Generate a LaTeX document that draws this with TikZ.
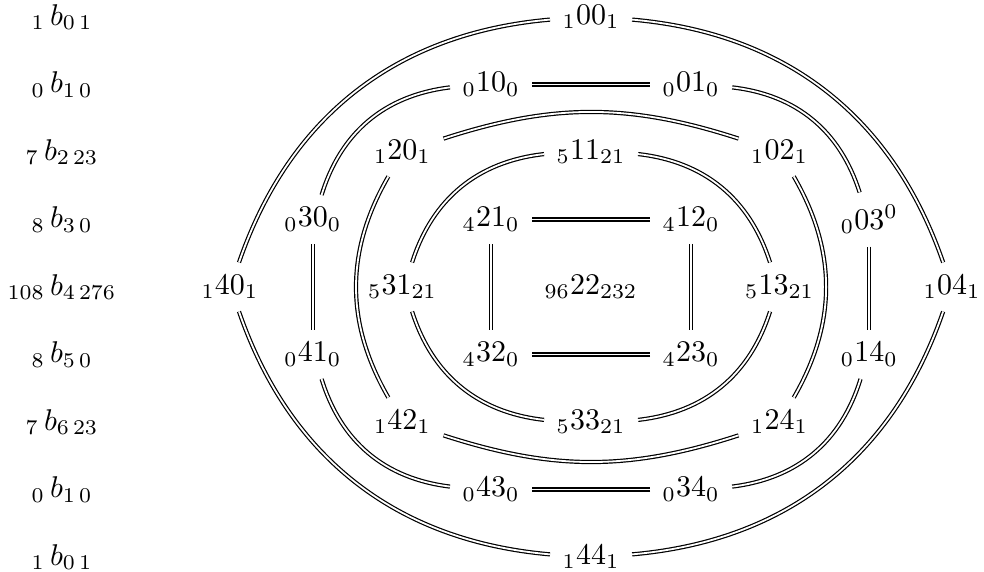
\documentclass[tikz,border=0pt]{standalone}
\usepackage{amsmath}
\usepackage{amssymb}

\begin{document}
\begin{tikzpicture}[x=1cm, y=0.791cm, every node/.style={inner sep=4pt}, eq/.style={double}]
                    \useasboundingbox (-6.924,-4.221) rectangle (4.603,4.250);

                    % Betti column
                    \node (b0t) at (-6.197,4) {${}_{1}\,b_{0\,1}$};
                    \node (b1t) at (-6.197,3) {${}_{0}\,b_{1\,0}$};
                    \node (b2) at (-6.197,2) {${}_{7}\,b_{2\,23}$};
                    \node (b3) at (-6.197,1) {${}_{8}\,b_{3\,0}$};
                    \node (b4) at (-6.197,0) {${}_{108}\,b_{4\,276}$};
                    \node (b5) at (-6.197,-1) {${}_{8}\,b_{5\,0}$};
                    \node (b6) at (-6.197,-2) {${}_{7}\,b_{6\,23}$};
                    \node (b1b) at (-6.197,-3) {${}_{0}\,b_{1\,0}$};
                    \node (b0b) at (-6.197,-4) {${}_{1}\,b_{0\,1}$};

                    % Diamond
                    \node (n100) at (0,4) {${}_{1}00_{1}$};
                    \node (n010) at (-1.172,3) {${}_{0}10_{0}$};
                    \node (n001) at (1.172,3) {${}_{0}01_{0}$};
                    \node (n120) at (-2.209,2) {${}_{1}20_{1}$};
                    \node (n511) at (0,2) {${}_{5}11_{21}$};
                    \node (n102) at (2.209,2) {${}_{1}02_{1}$};
                    \node (n030) at (-3.26,1) {${}_{0}30_{0}$};
                    \node (n421) at (-1.172,1) {${}_{4}21_{0}$};
                    \node (n412) at (1.172,1) {${}_{4}12_{0}$};
                    \node (n003) at (3.26,1) {${}_{0}03^{0}$};
                    \node (n140) at (-4.23,0) {${}_{1}40_{1}$};
                    \node (n531) at (-2.209,0) {${}_{5}31_{21}$};
                    \node (n22) at (0,0) {${}_{96}22_{232}$};
                    \node (n513) at (2.209,0) {${}_{5}13_{21}$};
                    \node (n104) at (4.23,0) {${}_{1}04_{1}$};
                    \node (n041) at (-3.26,-1) {${}_{0}41_{0}$};
                    \node (n432) at (-1.172,-1) {${}_{4}32_{0}$};
                    \node (n423) at (1.172,-1) {${}_{4}23_{0}$};
                    \node (n014) at (3.26,-1) {${}_{0}14_{0}$};
                    \node (n142) at (-2.209,-2) {${}_{1}42_{1}$};
                    \node (n533) at (0,-2) {${}_{5}33_{21}$};
                    \node (n124) at (2.209,-2) {${}_{1}24_{1}$};
                    \node (n043) at (-1.172,-3) {${}_{0}43_{0}$};
                    \node (n034) at (1.172,-3) {${}_{0}34_{0}$};
                    \node (n144) at (0,-4) {${}_{1}44_{1}$};

                    % Outer loop
                    \draw[eq] (n140) to[bend left=33] (n100);
                    \draw[eq] (n100) to[bend left=33] (n104);
                    \draw[eq] (n104) to[bend left=33] (n144);
                    \draw[eq] (n144) to[bend left=33] (n140);

                    % Second loop
                    \draw[eq] (n030) to[bend left=33] (n010);
                    \draw[eq] (n010) -- (n001);
                    \draw[eq] (n001) to[bend left=33] (n003);
                    \draw[eq] (n003) -- (n014);
                    \draw[eq] (n014) to[bend left=33] (n034);
                    \draw[eq] (n034) -- (n043);
                    \draw[eq] (n043) to[bend left=33] (n041);
                    \draw[eq] (n041) -- (n030);

                    % Third loop
                    \draw[eq] (n120) to[bend left=18] (n102);
                    \draw[eq] (n102) to[bend left=30] (n124);
                    \draw[eq] (n124) to[bend left=18] (n142);
                    \draw[eq] (n142) to[bend left=30] (n120);

                    % Inner loop
                    \draw[eq] (n531) to[bend left=33] (n511);
                    \draw[eq] (n511) to[bend left=33] (n513);
                    \draw[eq] (n513) to[bend left=33] (n533);
                    \draw[eq] (n533) to[bend left=33] (n531);

                    % Square
                    \draw[eq] (n421) -- (n412);
                    \draw[eq] (n412) -- (n423);
                    \draw[eq] (n423) -- (n432);
                    \draw[eq] (n432) -- (n421);
                \end{tikzpicture}
\end{document}
